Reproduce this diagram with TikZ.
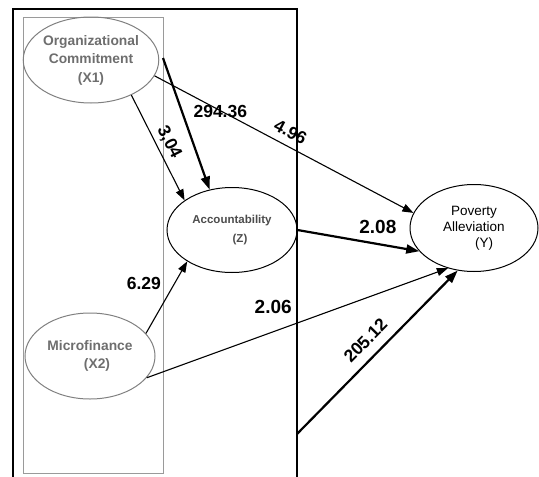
\documentclass[tikz,border=0pt]{standalone}
\usepackage{fontspec}
\setmainfont{Liberation Sans}
\usetikzlibrary{shapes.geometric,arrows.meta}
\definecolor{txtgray}{HTML}{6E6E6E}
\definecolor{boxgray}{HTML}{9A9A9A}
\tikzset{
  latent/.style={ellipse,draw,line width=1pt,inner sep=0pt,minimum width=130pt,minimum height=86pt,align=center},
  thinarr/.style={line width=1.1pt,-{Triangle[length=11pt,width=8pt]}},
  thickarr/.style={line width=2.2pt,-{Triangle[length=13pt,width=9pt]}},
  val/.style={font=\bfseries\fontsize{17.5}{20}\selectfont},
  bigval/.style={font=\bfseries\fontsize{19}{22}\selectfont}
}
\begin{document}
\begin{tikzpicture}[x=1pt,y=-1pt]
\useasboundingbox (0,0) rectangle (539,477);
\draw[line width=2pt] (13,480) -- (13,9) -- (297,9) -- (297,480);
\draw[boxgray,line width=1pt] (23,17) rectangle (163,473);
\node[latent,draw=gray,text=txtgray,font=\bfseries\fontsize{13.8}{18.5}\selectfont] (X1) at (91,60) {Organizational\\Commitment\\(X1)};
\node[latent,draw=gray,text=txtgray,font=\bfseries\fontsize{13.8}{17.5}\selectfont] (X2) at (90,356) {Microfinance\\\hspace*{14pt}(X2)};
\node[latent,minimum height=85pt,text=black!70,font=\bfseries\fontsize{11.5}{18.5}\selectfont] (Z) at (232,230) {Accountability\\\hspace*{16pt}(Z)};
\node[latent,minimum width=128pt,minimum height=87pt,font=\fontsize{13.5}{16}\selectfont] (Y) at (474,228) {Poverty\\Alleviation\\\hspace*{20pt}(Y)};
\coordinate (s1) at (163,58);
\coordinate (s2) at (297,434);
\draw[thinarr] (X1.-41) -- node[val,sloped,above=1pt,pos=.5] {3,04} (Z.148);
\draw[thickarr] (s1) -- node[val,right=7pt,pos=.41] {294.36} (Z.119);
\draw[thinarr] (X1.-14) -- node[val,sloped,above=4pt,pos=.5] {4.96} (Y.166);
\draw[thickarr] (Z.east) -- node[bigval,above=6pt,pos=.66] {2.08} (Y.203);
\draw[thinarr] (X2.22) -- node[val,left=10pt,pos=.7] {6.29} (Z.215);
\draw[thinarr] (X2.-21) -- node[bigval,above=14pt,pos=.42] {2.06} (Y.237);
\draw[thickarr] (s2) -- node[val,sloped,above=6pt,pos=.5] {205.12} (Y.249);
\end{tikzpicture}
\end{document}
